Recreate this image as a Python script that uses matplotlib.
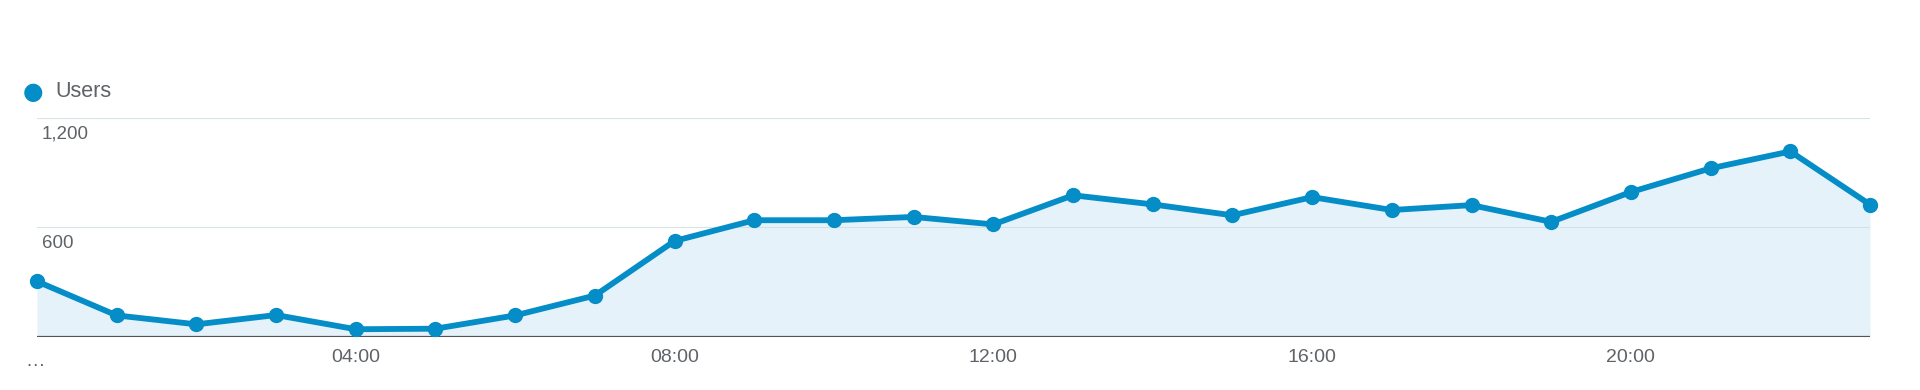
import matplotlib.pyplot as plt
import matplotlib.transforms as mtransforms

plt.rcParams['font.family'] = ['Liberation Sans', 'DejaVu Sans']

# Users per hour
hours = list(range(24))
users = [304, 117, 68, 119, 41, 44, 117, 226, 526, 640, 640, 658, 617, 777,
         727, 667, 767, 696, 723, 631, 795, 925, 1018, 726]
tick_hours = [0, 4, 8, 12, 16, 20]
tick_labels = ['…', '04:00', '08:00', '12:00', '16:00', '20:00']
grid_values = [600, 1200]
grid_labels = ['600', '1,200']
series_name = 'Users'

blue = '#058dc7'
fill = '#e5f2f9'
text_grey = '#5f6368'

fig = plt.figure(figsize=(19.2, 3.9), dpi=100)
ax = fig.add_axes([37 / 1920, (390 - 336.7) / 390, 1833 / 1920, 218.4 / 390])

ax.fill_between(hours, users, 0, color=fill, zorder=1, linewidth=0)
ax.plot(hours, users, color=blue, linewidth=4.2, marker='o', markersize=10,
        zorder=4, clip_on=False, solid_joinstyle='round')

# gridlines and labels
for v, lab in zip(grid_values, grid_labels):
    ax.axhline(v, color='#cfdce3', linewidth=0.8, alpha=0.8, zorder=2)
    ax.annotate(lab, xy=(0, v), xycoords=ax.get_yaxis_transform(),
                xytext=(5, -16), textcoords='offset pixels',
                ha='left', va='center', fontsize=13.5, color=text_grey)

ax.axhline(0, color='#555555', linewidth=1.6, zorder=3)

ax.set_xlim(0, 23)
ax.set_ylim(0, 1200)
ax.set_xticks(tick_hours)
ax.set_xticklabels(tick_labels, fontsize=14, color=text_grey)
ax.tick_params(axis='x', length=0, pad=9)
ax.set_yticks([])
for s in ax.spines.values():
    s.set_visible(False)

# shift the ellipsis label a little down
lbl0 = ax.get_xticklabels()[0]
lbl0.set_transform(lbl0.get_transform() + mtransforms.Affine2D().translate(-2, -4))

# legend
fig.text(33 / 1920, 1 - 91.7 / 390, '●', color=blue, fontsize=17,
         ha='center', va='center', family='DejaVu Sans')
fig.text(55 / 1920, 1 - 91.7 / 390, series_name, color=text_grey, fontsize=15.5,
         ha='left', va='center')

fig.savefig('out.png', dpi=100, facecolor='white')
